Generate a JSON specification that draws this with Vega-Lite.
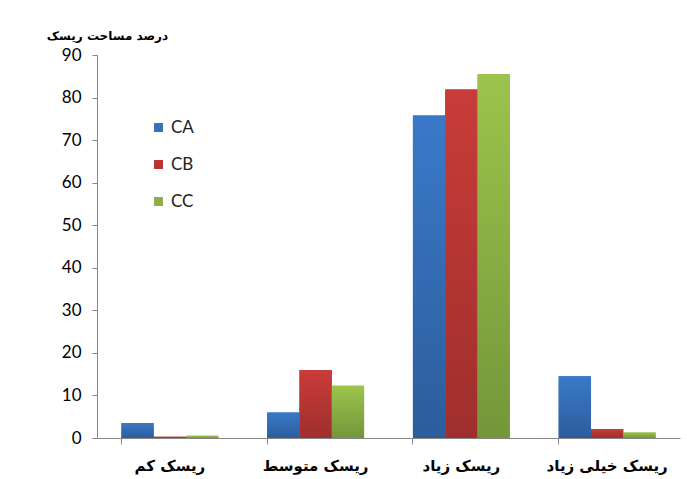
{
  "$schema": "https://vega.github.io/schema/vega-lite/v6.json",
  "width": 583,
  "height": 383,
  "autosize": "none",
  "padding": {"left": 97, "top": 55, "right": 7, "bottom": 41},
  "background": "white",
  "config": {"view": {"stroke": null}},
  "data": {"values": [
    {"risk": "ریسک کم", "s": "CA", "v": 3.5},
    {"risk": "ریسک کم", "s": "CB", "v": 0.3},
    {"risk": "ریسک کم", "s": "CC", "v": 0.5},
    {"risk": "ریسک متوسط", "s": "CA", "v": 6.0},
    {"risk": "ریسک متوسط", "s": "CB", "v": 16.0},
    {"risk": "ریسک متوسط", "s": "CC", "v": 12.3},
    {"risk": "ریسک زیاد", "s": "CA", "v": 75.8},
    {"risk": "ریسک زیاد", "s": "CB", "v": 81.9},
    {"risk": "ریسک زیاد", "s": "CC", "v": 85.5},
    {"risk": "ریسک خیلی زیاد", "s": "CA", "v": 14.5},
    {"risk": "ریسک خیلی زیاد", "s": "CB", "v": 2.1},
    {"risk": "ریسک خیلی زیاد", "s": "CC", "v": 1.3}
  ]},
  "encoding": {
    "x": {
      "field": "risk", "type": "nominal", "sort": null,
      "scale": {"paddingInner": 0.335, "paddingOuter": 0.1675},
      "axis": {
        "title": null, "labelAngle": 0, "bandPosition": 0,
        "labelFont": "DejaVu Sans", "labelFontSize": 15, "labelFontWeight": "bold",
        "labelColor": "#000000", "labelPadding": 14, "labelBaseline": "top",
        "domainColor": "#868686", "tickColor": "#868686", "tickSize": 6,
        "labelBound": false, "labelOverlap": false
      }
    },
    "xOffset": {"field": "s", "type": "nominal", "scale": {"paddingInner": 0, "paddingOuter": 0}},
    "y": {
      "field": "v", "type": "quantitative",
      "scale": {"domain": [0, 90], "nice": false},
      "axis": {
        "values": [0, 10, 20, 30, 40, 50, 60, 70, 80, 90],
        "grid": false, "tickSize": 5, "labelPadding": 11,
        "labelFont": "Lato", "labelFontSize": 17, "labelColor": "#000000",
        "domainColor": "#868686", "tickColor": "#868686",
        "title": "درصد مساحت ریسک", "titleAngle": 0, "titleX": 10, "titleY": -20,
        "titleAlign": "center", "titleBaseline": "middle",
        "titleFont": "DejaVu Sans", "titleFontSize": 12, "titleFontWeight": "bold", "titleColor": "#000000"
      }
    }
  },
  "layer": [
    {
      "mark": {"type": "bar"},
      "encoding": {
        "color": {
          "field": "s", "type": "nominal",
          "scale": {"domain": ["CA", "CB", "CC"], "range": ["#3570B8", "#B8332F", "#8BB042"]},
          "legend": {
            "title": null, "orient": "none", "legendX": 53, "legendY": 64,
            "symbolType": "square", "symbolSize": 80, "symbolStrokeWidth": 0,
            "labelFont": "Lato", "labelFontSize": 17, "labelColor": "#222222",
            "rowPadding": 19, "labelOffset": 4
          }
        }
      }
    },
    {
      "mark": {"type": "bar"},
      "encoding": {
        "fill": {
          "condition": [
            {"test": "datum.s === 'CA'", "value": {"gradient": "linear", "x1": 0, "y1": 0, "x2": 0, "y2": 1, "stops": [{"offset": 0, "color": "#3A79C9"}, {"offset": 1, "color": "#2C5D9B"}]}},
            {"test": "datum.s === 'CB'", "value": {"gradient": "linear", "x1": 0, "y1": 0, "x2": 0, "y2": 1, "stops": [{"offset": 0, "color": "#C93C39"}, {"offset": 1, "color": "#9E2F2D"}]}}
          ],
          "value": {"gradient": "linear", "x1": 0, "y1": 0, "x2": 0, "y2": 1, "stops": [{"offset": 0, "color": "#9CC44C"}, {"offset": 1, "color": "#74963A"}]}
        }
      }
    }
  ]
}
